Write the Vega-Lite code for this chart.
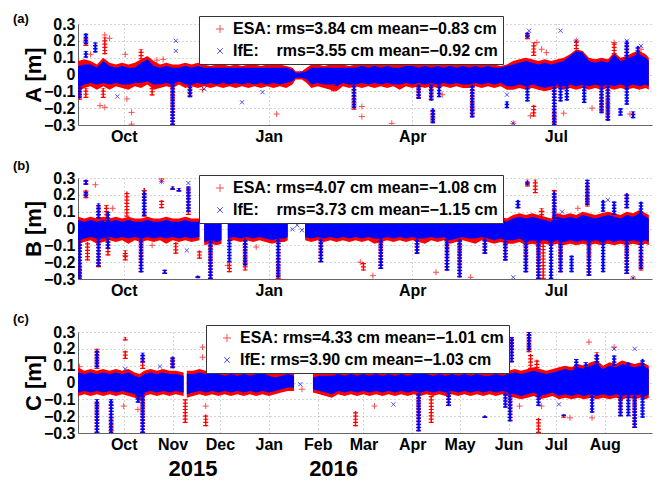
{
"$schema":"https://vega.github.io/schema/vega-lite/v6.json",
"background":"white",
"padding":{"left":13,"top":12,"right":5,"bottom":5},
"bounds":"flush",
"spacing":53,
"datasets":{
"band":[
{"p":"A","g":1,"d":"2015-09-02","eh":0.08,"el":-0.10,"ih":0.05,"il":-0.08},
{"p":"A","g":1,"d":"2015-09-06","eh":0.09,"el":-0.08,"ih":0.06,"il":-0.06},
{"p":"A","g":1,"d":"2015-09-10","eh":0.08,"el":-0.07,"ih":0.06,"il":-0.05},
{"p":"A","g":1,"d":"2015-09-14","eh":0.06,"el":-0.09,"ih":0.04,"il":-0.06},
{"p":"A","g":1,"d":"2015-09-18","eh":0.10,"el":-0.07,"ih":0.08,"il":-0.05},
{"p":"A","g":1,"d":"2015-09-22","eh":0.07,"el":-0.09,"ih":0.05,"il":-0.06},
{"p":"A","g":1,"d":"2015-09-26","eh":0.06,"el":-0.07,"ih":0.04,"il":-0.05},
{"p":"A","g":1,"d":"2015-09-30","eh":0.07,"el":-0.08,"ih":0.05,"il":-0.06},
{"p":"A","g":1,"d":"2015-10-04","eh":0.06,"el":-0.09,"ih":0.04,"il":-0.06},
{"p":"A","g":1,"d":"2015-10-08","eh":0.07,"el":-0.07,"ih":0.04,"il":-0.05},
{"p":"A","g":1,"d":"2015-10-12","eh":0.09,"el":-0.08,"ih":0.07,"il":-0.05},
{"p":"A","g":1,"d":"2015-10-16","eh":0.11,"el":-0.06,"ih":0.09,"il":-0.04},
{"p":"A","g":1,"d":"2015-10-20","eh":0.08,"el":-0.09,"ih":0.05,"il":-0.06},
{"p":"A","g":1,"d":"2015-10-24","eh":0.06,"el":-0.08,"ih":0.04,"il":-0.06},
{"p":"A","g":1,"d":"2015-10-28","eh":0.07,"el":-0.07,"ih":0.05,"il":-0.05},
{"p":"A","g":1,"d":"2015-11-01","eh":0.06,"el":-0.08,"ih":0.04,"il":-0.06},
{"p":"A","g":1,"d":"2015-11-05","eh":0.06,"el":-0.06,"ih":0.04,"il":-0.04},
{"p":"A","g":1,"d":"2015-11-09","eh":0.07,"el":-0.08,"ih":0.05,"il":-0.06},
{"p":"A","g":1,"d":"2015-11-13","eh":0.06,"el":-0.07,"ih":0.04,"il":-0.06},
{"p":"A","g":1,"d":"2015-11-17","eh":0.07,"el":-0.08,"ih":0.05,"il":-0.05},
{"p":"A","g":1,"d":"2015-11-21","eh":0.06,"el":-0.07,"ih":0.04,"il":-0.06},
{"p":"A","g":1,"d":"2015-11-25","eh":0.05,"el":-0.08,"ih":0.04,"il":-0.05},
{"p":"A","g":1,"d":"2015-11-29","eh":0.06,"el":-0.07,"ih":0.04,"il":-0.06},
{"p":"A","g":1,"d":"2015-12-03","eh":0.06,"el":-0.08,"ih":0.04,"il":-0.05},
{"p":"A","g":1,"d":"2015-12-07","eh":0.05,"el":-0.07,"ih":0.04,"il":-0.06},
{"p":"A","g":1,"d":"2015-12-11","eh":0.06,"el":-0.08,"ih":0.04,"il":-0.05},
{"p":"A","g":1,"d":"2015-12-15","eh":0.05,"el":-0.07,"ih":0.04,"il":-0.06},
{"p":"A","g":1,"d":"2015-12-19","eh":0.06,"el":-0.08,"ih":0.04,"il":-0.05},
{"p":"A","g":1,"d":"2015-12-23","eh":0.06,"el":-0.07,"ih":0.04,"il":-0.06},
{"p":"A","g":1,"d":"2015-12-27","eh":0.05,"el":-0.08,"ih":0.04,"il":-0.05},
{"p":"A","g":1,"d":"2015-12-31","eh":0.06,"el":-0.07,"ih":0.04,"il":-0.06},
{"p":"A","g":1,"d":"2016-01-04","eh":0.06,"el":-0.08,"ih":0.04,"il":-0.05},
{"p":"A","g":1,"d":"2016-01-08","eh":0.06,"el":-0.07,"ih":0.04,"il":-0.06},
{"p":"A","g":1,"d":"2016-01-12","eh":0.05,"el":-0.08,"ih":0.04,"il":-0.05},
{"p":"A","g":1,"d":"2016-01-16","eh":0.04,"el":-0.06,"ih":0.03,"il":-0.04},
{"p":"A","g":1,"d":"2016-01-18","eh":0.02,"el":-0.03,"ih":0.01,"il":-0.02},
{"p":"A","g":1,"d":"2016-01-22","eh":0.02,"el":-0.03,"ih":0.01,"il":-0.02},
{"p":"A","g":1,"d":"2016-01-25","eh":0.04,"el":-0.05,"ih":0.02,"il":-0.03},
{"p":"A","g":1,"d":"2016-01-28","eh":0.06,"el":-0.08,"ih":0.04,"il":-0.06},
{"p":"A","g":1,"d":"2016-02-01","eh":0.06,"el":-0.07,"ih":0.04,"il":-0.05},
{"p":"A","g":1,"d":"2016-02-05","eh":0.05,"el":-0.08,"ih":0.04,"il":-0.06},
{"p":"A","g":1,"d":"2016-02-09","eh":0.06,"el":-0.09,"ih":0.04,"il":-0.06},
{"p":"A","g":1,"d":"2016-02-13","eh":0.06,"el":-0.10,"ih":0.04,"il":-0.07},
{"p":"A","g":1,"d":"2016-02-17","eh":0.06,"el":-0.07,"ih":0.04,"il":-0.05},
{"p":"A","g":1,"d":"2016-02-21","eh":0.05,"el":-0.08,"ih":0.04,"il":-0.06},
{"p":"A","g":1,"d":"2016-02-25","eh":0.06,"el":-0.07,"ih":0.04,"il":-0.06},
{"p":"A","g":1,"d":"2016-02-29","eh":0.07,"el":-0.08,"ih":0.05,"il":-0.05},
{"p":"A","g":1,"d":"2016-03-04","eh":0.06,"el":-0.07,"ih":0.04,"il":-0.06},
{"p":"A","g":1,"d":"2016-03-08","eh":0.07,"el":-0.08,"ih":0.05,"il":-0.05},
{"p":"A","g":1,"d":"2016-03-12","eh":0.06,"el":-0.07,"ih":0.04,"il":-0.06},
{"p":"A","g":1,"d":"2016-03-16","eh":0.07,"el":-0.08,"ih":0.05,"il":-0.05},
{"p":"A","g":1,"d":"2016-03-20","eh":0.06,"el":-0.07,"ih":0.04,"il":-0.06},
{"p":"A","g":1,"d":"2016-03-24","eh":0.06,"el":-0.09,"ih":0.04,"il":-0.06},
{"p":"A","g":1,"d":"2016-03-28","eh":0.07,"el":-0.07,"ih":0.05,"il":-0.05},
{"p":"A","g":1,"d":"2016-04-01","eh":0.07,"el":-0.08,"ih":0.05,"il":-0.06},
{"p":"A","g":1,"d":"2016-04-05","eh":0.06,"el":-0.07,"ih":0.04,"il":-0.05},
{"p":"A","g":1,"d":"2016-04-09","eh":0.07,"el":-0.08,"ih":0.05,"il":-0.06},
{"p":"A","g":1,"d":"2016-04-13","eh":0.06,"el":-0.07,"ih":0.04,"il":-0.05},
{"p":"A","g":1,"d":"2016-04-17","eh":0.07,"el":-0.08,"ih":0.05,"il":-0.06},
{"p":"A","g":1,"d":"2016-04-21","eh":0.06,"el":-0.07,"ih":0.04,"il":-0.05},
{"p":"A","g":1,"d":"2016-04-25","eh":0.07,"el":-0.08,"ih":0.05,"il":-0.06},
{"p":"A","g":1,"d":"2016-04-29","eh":0.06,"el":-0.07,"ih":0.04,"il":-0.05},
{"p":"A","g":1,"d":"2016-05-03","eh":0.07,"el":-0.08,"ih":0.05,"il":-0.06},
{"p":"A","g":1,"d":"2016-05-07","eh":0.06,"el":-0.08,"ih":0.04,"il":-0.06},
{"p":"A","g":1,"d":"2016-05-11","eh":0.07,"el":-0.07,"ih":0.05,"il":-0.05},
{"p":"A","g":1,"d":"2016-05-15","eh":0.06,"el":-0.08,"ih":0.04,"il":-0.06},
{"p":"A","g":1,"d":"2016-05-19","eh":0.07,"el":-0.07,"ih":0.05,"il":-0.05},
{"p":"A","g":1,"d":"2016-05-23","eh":0.06,"el":-0.08,"ih":0.04,"il":-0.06},
{"p":"A","g":1,"d":"2016-05-27","eh":0.05,"el":-0.07,"ih":0.04,"il":-0.05},
{"p":"A","g":1,"d":"2016-05-31","eh":0.06,"el":-0.09,"ih":0.05,"il":-0.07},
{"p":"A","g":1,"d":"2016-06-04","eh":0.08,"el":-0.09,"ih":0.06,"il":-0.07},
{"p":"A","g":1,"d":"2016-06-08","eh":0.09,"el":-0.08,"ih":0.07,"il":-0.06},
{"p":"A","g":1,"d":"2016-06-12","eh":0.10,"el":-0.09,"ih":0.08,"il":-0.07},
{"p":"A","g":1,"d":"2016-06-16","eh":0.09,"el":-0.08,"ih":0.07,"il":-0.06},
{"p":"A","g":1,"d":"2016-06-20","eh":0.08,"el":-0.09,"ih":0.06,"il":-0.07},
{"p":"A","g":1,"d":"2016-06-24","eh":0.09,"el":-0.10,"ih":0.07,"il":-0.08},
{"p":"A","g":1,"d":"2016-06-28","eh":0.08,"el":-0.09,"ih":0.06,"il":-0.07},
{"p":"A","g":1,"d":"2016-07-02","eh":0.09,"el":-0.08,"ih":0.07,"il":-0.06},
{"p":"A","g":1,"d":"2016-07-06","eh":0.10,"el":-0.09,"ih":0.08,"il":-0.07},
{"p":"A","g":1,"d":"2016-07-10","eh":0.12,"el":-0.08,"ih":0.11,"il":-0.06},
{"p":"A","g":1,"d":"2016-07-14","eh":0.15,"el":-0.09,"ih":0.14,"il":-0.07},
{"p":"A","g":1,"d":"2016-07-18","eh":0.14,"el":-0.08,"ih":0.13,"il":-0.06},
{"p":"A","g":1,"d":"2016-07-22","eh":0.10,"el":-0.09,"ih":0.08,"il":-0.07},
{"p":"A","g":1,"d":"2016-07-26","eh":0.09,"el":-0.08,"ih":0.07,"il":-0.06},
{"p":"A","g":1,"d":"2016-07-30","eh":0.10,"el":-0.09,"ih":0.08,"il":-0.07},
{"p":"A","g":1,"d":"2016-08-03","eh":0.09,"el":-0.08,"ih":0.07,"il":-0.06},
{"p":"A","g":1,"d":"2016-08-07","eh":0.13,"el":-0.09,"ih":0.12,"il":-0.07},
{"p":"A","g":1,"d":"2016-08-11","eh":0.10,"el":-0.08,"ih":0.08,"il":-0.06},
{"p":"A","g":1,"d":"2016-08-15","eh":0.11,"el":-0.09,"ih":0.09,"il":-0.07},
{"p":"A","g":1,"d":"2016-08-19","eh":0.13,"el":-0.08,"ih":0.11,"il":-0.06},
{"p":"A","g":1,"d":"2016-08-23","eh":0.14,"el":-0.09,"ih":0.12,"il":-0.07},
{"p":"A","g":1,"d":"2016-08-27","eh":0.12,"el":-0.08,"ih":0.10,"il":-0.06},
{"p":"A","g":1,"d":"2016-08-29","eh":0.10,"el":-0.09,"ih":0.08,"il":-0.07},
{"p":"B","g":1,"d":"2015-09-02","eh":0.07,"el":-0.09,"ih":0.05,"il":-0.07},
{"p":"B","g":1,"d":"2015-09-06","eh":0.06,"el":-0.08,"ih":0.04,"il":-0.06},
{"p":"B","g":1,"d":"2015-09-10","eh":0.07,"el":-0.07,"ih":0.05,"il":-0.05},
{"p":"B","g":1,"d":"2015-09-14","eh":0.06,"el":-0.09,"ih":0.04,"il":-0.06},
{"p":"B","g":1,"d":"2015-09-18","eh":0.07,"el":-0.08,"ih":0.05,"il":-0.06},
{"p":"B","g":1,"d":"2015-09-22","eh":0.06,"el":-0.07,"ih":0.04,"il":-0.05},
{"p":"B","g":1,"d":"2015-09-26","eh":0.07,"el":-0.08,"ih":0.05,"il":-0.06},
{"p":"B","g":1,"d":"2015-09-30","eh":0.06,"el":-0.07,"ih":0.04,"il":-0.05},
{"p":"B","g":1,"d":"2015-10-04","eh":0.07,"el":-0.09,"ih":0.05,"il":-0.06},
{"p":"B","g":1,"d":"2015-10-08","eh":0.06,"el":-0.07,"ih":0.04,"il":-0.05},
{"p":"B","g":1,"d":"2015-10-12","eh":0.06,"el":-0.08,"ih":0.04,"il":-0.06},
{"p":"B","g":1,"d":"2015-10-16","eh":0.07,"el":-0.07,"ih":0.05,"il":-0.05},
{"p":"B","g":1,"d":"2015-10-20","eh":0.06,"el":-0.08,"ih":0.04,"il":-0.06},
{"p":"B","g":1,"d":"2015-10-24","eh":0.06,"el":-0.07,"ih":0.04,"il":-0.05},
{"p":"B","g":1,"d":"2015-10-28","eh":0.07,"el":-0.09,"ih":0.05,"il":-0.06},
{"p":"B","g":1,"d":"2015-11-01","eh":0.06,"el":-0.07,"ih":0.04,"il":-0.05},
{"p":"B","g":1,"d":"2015-11-05","eh":0.06,"el":-0.08,"ih":0.04,"il":-0.06},
{"p":"B","g":1,"d":"2015-11-09","eh":0.07,"el":-0.07,"ih":0.05,"il":-0.05},
{"p":"B","g":1,"d":"2015-11-13","eh":0.06,"el":-0.08,"ih":0.04,"il":-0.06},
{"p":"B","g":1,"d":"2015-11-18","eh":0.06,"el":-0.07,"ih":0.04,"il":-0.05},
{"p":"B","g":2,"d":"2015-11-21","eh":0.07,"el":-0.10,"ih":0.05,"il":-0.08},
{"p":"B","g":2,"d":"2015-11-25","eh":0.08,"el":-0.09,"ih":0.06,"il":-0.07},
{"p":"B","g":2,"d":"2015-11-29","eh":0.07,"el":-0.10,"ih":0.05,"il":-0.08},
{"p":"B","g":2,"d":"2015-12-02","eh":0.08,"el":-0.09,"ih":0.06,"il":-0.07},
{"p":"B","g":3,"d":"2015-12-06","eh":0.06,"el":-0.08,"ih":0.04,"il":-0.06},
{"p":"B","g":3,"d":"2015-12-10","eh":0.07,"el":-0.07,"ih":0.05,"il":-0.05},
{"p":"B","g":3,"d":"2015-12-14","eh":0.06,"el":-0.08,"ih":0.04,"il":-0.06},
{"p":"B","g":3,"d":"2015-12-18","eh":0.06,"el":-0.07,"ih":0.04,"il":-0.05},
{"p":"B","g":3,"d":"2015-12-22","eh":0.07,"el":-0.08,"ih":0.05,"il":-0.06},
{"p":"B","g":3,"d":"2015-12-26","eh":0.06,"el":-0.07,"ih":0.04,"il":-0.05},
{"p":"B","g":3,"d":"2015-12-30","eh":0.07,"el":-0.08,"ih":0.05,"il":-0.06},
{"p":"B","g":3,"d":"2016-01-03","eh":0.08,"el":-0.09,"ih":0.06,"il":-0.07},
{"p":"B","g":3,"d":"2016-01-07","eh":0.08,"el":-0.08,"ih":0.06,"il":-0.06},
{"p":"B","g":3,"d":"2016-01-11","eh":0.07,"el":-0.08,"ih":0.05,"il":-0.06},
{"p":"B","g":3,"d":"2016-01-13","eh":0.06,"el":-0.07,"ih":0.04,"il":-0.05},
{"p":"B","g":4,"d":"2016-01-24","eh":0.06,"el":-0.07,"ih":0.04,"il":-0.05},
{"p":"B","g":4,"d":"2016-01-28","eh":0.07,"el":-0.08,"ih":0.05,"il":-0.06},
{"p":"B","g":4,"d":"2016-02-01","eh":0.06,"el":-0.07,"ih":0.04,"il":-0.05},
{"p":"B","g":4,"d":"2016-02-05","eh":0.06,"el":-0.08,"ih":0.04,"il":-0.06},
{"p":"B","g":4,"d":"2016-02-09","eh":0.07,"el":-0.07,"ih":0.05,"il":-0.05},
{"p":"B","g":4,"d":"2016-02-13","eh":0.06,"el":-0.08,"ih":0.04,"il":-0.06},
{"p":"B","g":4,"d":"2016-02-17","eh":0.06,"el":-0.07,"ih":0.04,"il":-0.05},
{"p":"B","g":4,"d":"2016-02-21","eh":0.07,"el":-0.08,"ih":0.05,"il":-0.06},
{"p":"B","g":4,"d":"2016-02-25","eh":0.06,"el":-0.07,"ih":0.04,"il":-0.05},
{"p":"B","g":4,"d":"2016-02-29","eh":0.07,"el":-0.08,"ih":0.05,"il":-0.06},
{"p":"B","g":4,"d":"2016-03-04","eh":0.06,"el":-0.07,"ih":0.04,"il":-0.05},
{"p":"B","g":4,"d":"2016-03-08","eh":0.07,"el":-0.09,"ih":0.05,"il":-0.06},
{"p":"B","g":4,"d":"2016-03-12","eh":0.06,"el":-0.08,"ih":0.04,"il":-0.06},
{"p":"B","g":4,"d":"2016-03-16","eh":0.07,"el":-0.07,"ih":0.05,"il":-0.05},
{"p":"B","g":4,"d":"2016-03-20","eh":0.06,"el":-0.08,"ih":0.04,"il":-0.06},
{"p":"B","g":4,"d":"2016-03-24","eh":0.07,"el":-0.07,"ih":0.05,"il":-0.05},
{"p":"B","g":4,"d":"2016-03-28","eh":0.06,"el":-0.08,"ih":0.04,"il":-0.06},
{"p":"B","g":4,"d":"2016-04-01","eh":0.07,"el":-0.07,"ih":0.05,"il":-0.05},
{"p":"B","g":4,"d":"2016-04-05","eh":0.06,"el":-0.08,"ih":0.04,"il":-0.06},
{"p":"B","g":4,"d":"2016-04-09","eh":0.07,"el":-0.09,"ih":0.05,"il":-0.06},
{"p":"B","g":4,"d":"2016-04-13","eh":0.06,"el":-0.07,"ih":0.04,"il":-0.05},
{"p":"B","g":4,"d":"2016-04-17","eh":0.07,"el":-0.08,"ih":0.05,"il":-0.06},
{"p":"B","g":4,"d":"2016-04-21","eh":0.06,"el":-0.07,"ih":0.04,"il":-0.05},
{"p":"B","g":4,"d":"2016-04-25","eh":0.07,"el":-0.09,"ih":0.05,"il":-0.07},
{"p":"B","g":4,"d":"2016-04-29","eh":0.06,"el":-0.08,"ih":0.04,"il":-0.06},
{"p":"B","g":4,"d":"2016-05-03","eh":0.07,"el":-0.07,"ih":0.05,"il":-0.05},
{"p":"B","g":4,"d":"2016-05-07","eh":0.06,"el":-0.08,"ih":0.04,"il":-0.06},
{"p":"B","g":4,"d":"2016-05-11","eh":0.07,"el":-0.09,"ih":0.05,"il":-0.06},
{"p":"B","g":4,"d":"2016-05-15","eh":0.06,"el":-0.07,"ih":0.04,"il":-0.05},
{"p":"B","g":4,"d":"2016-05-19","eh":0.07,"el":-0.08,"ih":0.05,"il":-0.06},
{"p":"B","g":4,"d":"2016-05-23","eh":0.06,"el":-0.09,"ih":0.04,"il":-0.07},
{"p":"B","g":4,"d":"2016-05-27","eh":0.07,"el":-0.08,"ih":0.05,"il":-0.06},
{"p":"B","g":4,"d":"2016-05-31","eh":0.06,"el":-0.09,"ih":0.04,"il":-0.07},
{"p":"B","g":4,"d":"2016-06-04","eh":0.08,"el":-0.09,"ih":0.06,"il":-0.07},
{"p":"B","g":4,"d":"2016-06-08","eh":0.09,"el":-0.08,"ih":0.07,"il":-0.06},
{"p":"B","g":4,"d":"2016-06-12","eh":0.08,"el":-0.10,"ih":0.06,"il":-0.08},
{"p":"B","g":4,"d":"2016-06-16","eh":0.09,"el":-0.09,"ih":0.07,"il":-0.07},
{"p":"B","g":4,"d":"2016-06-20","eh":0.08,"el":-0.10,"ih":0.06,"il":-0.08},
{"p":"B","g":4,"d":"2016-06-24","eh":0.07,"el":-0.09,"ih":0.05,"il":-0.07},
{"p":"B","g":4,"d":"2016-06-28","eh":0.06,"el":-0.10,"ih":0.04,"il":-0.08},
{"p":"B","g":4,"d":"2016-07-02","eh":0.09,"el":-0.09,"ih":0.07,"il":-0.07},
{"p":"B","g":4,"d":"2016-07-06","eh":0.08,"el":-0.10,"ih":0.06,"il":-0.08},
{"p":"B","g":4,"d":"2016-07-10","eh":0.09,"el":-0.09,"ih":0.07,"il":-0.07},
{"p":"B","g":4,"d":"2016-07-14","eh":0.08,"el":-0.10,"ih":0.06,"il":-0.08},
{"p":"B","g":4,"d":"2016-07-18","eh":0.10,"el":-0.09,"ih":0.08,"il":-0.07},
{"p":"B","g":4,"d":"2016-07-22","eh":0.09,"el":-0.10,"ih":0.07,"il":-0.08},
{"p":"B","g":4,"d":"2016-07-26","eh":0.08,"el":-0.09,"ih":0.06,"il":-0.07},
{"p":"B","g":4,"d":"2016-07-30","eh":0.09,"el":-0.10,"ih":0.07,"il":-0.08},
{"p":"B","g":4,"d":"2016-08-03","eh":0.10,"el":-0.09,"ih":0.08,"il":-0.07},
{"p":"B","g":4,"d":"2016-08-07","eh":0.09,"el":-0.10,"ih":0.07,"il":-0.08},
{"p":"B","g":4,"d":"2016-08-11","eh":0.08,"el":-0.09,"ih":0.06,"il":-0.07},
{"p":"B","g":4,"d":"2016-08-15","eh":0.10,"el":-0.10,"ih":0.08,"il":-0.08},
{"p":"B","g":4,"d":"2016-08-19","eh":0.09,"el":-0.09,"ih":0.07,"il":-0.07},
{"p":"B","g":4,"d":"2016-08-23","eh":0.11,"el":-0.10,"ih":0.09,"il":-0.08},
{"p":"B","g":4,"d":"2016-08-27","eh":0.09,"el":-0.09,"ih":0.07,"il":-0.07},
{"p":"B","g":4,"d":"2016-08-29","eh":0.08,"el":-0.10,"ih":0.06,"il":-0.08},
{"p":"C","g":1,"d":"2015-09-02","eh":0.09,"el":-0.08,"ih":0.06,"il":-0.06},
{"p":"C","g":1,"d":"2015-09-06","eh":0.07,"el":-0.07,"ih":0.05,"il":-0.05},
{"p":"C","g":1,"d":"2015-09-10","eh":0.08,"el":-0.08,"ih":0.06,"il":-0.06},
{"p":"C","g":1,"d":"2015-09-14","eh":0.07,"el":-0.07,"ih":0.05,"il":-0.05},
{"p":"C","g":1,"d":"2015-09-18","eh":0.08,"el":-0.08,"ih":0.06,"il":-0.06},
{"p":"C","g":1,"d":"2015-09-22","eh":0.07,"el":-0.07,"ih":0.05,"il":-0.05},
{"p":"C","g":1,"d":"2015-09-26","eh":0.08,"el":-0.08,"ih":0.06,"il":-0.06},
{"p":"C","g":1,"d":"2015-09-30","eh":0.07,"el":-0.07,"ih":0.05,"il":-0.05},
{"p":"C","g":1,"d":"2015-10-04","eh":0.08,"el":-0.08,"ih":0.06,"il":-0.06},
{"p":"C","g":1,"d":"2015-10-08","eh":0.06,"el":-0.09,"ih":0.04,"il":-0.07},
{"p":"C","g":1,"d":"2015-10-11","eh":0.05,"el":-0.11,"ih":0.03,"il":-0.09},
{"p":"C","g":1,"d":"2015-10-14","eh":0.07,"el":-0.08,"ih":0.05,"il":-0.06},
{"p":"C","g":1,"d":"2015-10-18","eh":0.08,"el":-0.07,"ih":0.06,"il":-0.05},
{"p":"C","g":1,"d":"2015-10-22","eh":0.07,"el":-0.08,"ih":0.05,"il":-0.06},
{"p":"C","g":1,"d":"2015-10-26","eh":0.08,"el":-0.07,"ih":0.06,"il":-0.05},
{"p":"C","g":1,"d":"2015-10-30","eh":0.07,"el":-0.08,"ih":0.05,"il":-0.06},
{"p":"C","g":1,"d":"2015-11-03","eh":0.07,"el":-0.07,"ih":0.05,"il":-0.05},
{"p":"C","g":1,"d":"2015-11-08","eh":0.06,"el":-0.08,"ih":0.04,"il":-0.06},
{"p":"C","g":2,"d":"2015-11-10","eh":0.07,"el":-0.09,"ih":0.05,"il":-0.07},
{"p":"C","g":2,"d":"2015-11-14","eh":0.07,"el":-0.08,"ih":0.05,"il":-0.06},
{"p":"C","g":2,"d":"2015-11-18","eh":0.08,"el":-0.07,"ih":0.06,"il":-0.05},
{"p":"C","g":2,"d":"2015-11-22","eh":0.07,"el":-0.08,"ih":0.05,"il":-0.06},
{"p":"C","g":2,"d":"2015-11-26","eh":0.08,"el":-0.07,"ih":0.06,"il":-0.05},
{"p":"C","g":2,"d":"2015-11-30","eh":0.07,"el":-0.08,"ih":0.05,"il":-0.06},
{"p":"C","g":2,"d":"2015-12-04","eh":0.06,"el":-0.07,"ih":0.04,"il":-0.05},
{"p":"C","g":2,"d":"2015-12-08","eh":0.07,"el":-0.08,"ih":0.05,"il":-0.06},
{"p":"C","g":2,"d":"2015-12-12","eh":0.06,"el":-0.07,"ih":0.04,"il":-0.05},
{"p":"C","g":2,"d":"2015-12-16","eh":0.07,"el":-0.08,"ih":0.05,"il":-0.06},
{"p":"C","g":2,"d":"2015-12-20","eh":0.06,"el":-0.07,"ih":0.04,"il":-0.05},
{"p":"C","g":2,"d":"2015-12-24","eh":0.07,"el":-0.08,"ih":0.05,"il":-0.06},
{"p":"C","g":2,"d":"2015-12-28","eh":0.08,"el":-0.07,"ih":0.06,"il":-0.05},
{"p":"C","g":2,"d":"2016-01-01","eh":0.06,"el":-0.08,"ih":0.04,"il":-0.06},
{"p":"C","g":2,"d":"2016-01-05","eh":0.05,"el":-0.07,"ih":0.03,"il":-0.05},
{"p":"C","g":2,"d":"2016-01-09","eh":0.06,"el":-0.06,"ih":0.04,"il":-0.04},
{"p":"C","g":2,"d":"2016-01-13","eh":0.07,"el":-0.05,"ih":0.05,"il":-0.03},
{"p":"C","g":2,"d":"2016-01-17","eh":0.06,"el":-0.05,"ih":0.04,"il":-0.03},
{"p":"C","g":3,"d":"2016-01-29","eh":0.05,"el":-0.06,"ih":0.03,"il":-0.04},
{"p":"C","g":3,"d":"2016-02-02","eh":0.06,"el":-0.07,"ih":0.04,"il":-0.05},
{"p":"C","g":3,"d":"2016-02-06","eh":0.06,"el":-0.08,"ih":0.04,"il":-0.06},
{"p":"C","g":3,"d":"2016-02-10","eh":0.06,"el":-0.09,"ih":0.04,"il":-0.07},
{"p":"C","g":3,"d":"2016-02-14","eh":0.07,"el":-0.07,"ih":0.05,"il":-0.05},
{"p":"C","g":3,"d":"2016-02-18","eh":0.06,"el":-0.08,"ih":0.04,"il":-0.06},
{"p":"C","g":3,"d":"2016-02-22","eh":0.07,"el":-0.07,"ih":0.05,"il":-0.05},
{"p":"C","g":3,"d":"2016-02-26","eh":0.06,"el":-0.08,"ih":0.04,"il":-0.06},
{"p":"C","g":3,"d":"2016-03-01","eh":0.07,"el":-0.07,"ih":0.05,"il":-0.05},
{"p":"C","g":3,"d":"2016-03-05","eh":0.06,"el":-0.08,"ih":0.04,"il":-0.06},
{"p":"C","g":3,"d":"2016-03-09","eh":0.07,"el":-0.07,"ih":0.05,"il":-0.05},
{"p":"C","g":3,"d":"2016-03-13","eh":0.06,"el":-0.08,"ih":0.04,"il":-0.06},
{"p":"C","g":3,"d":"2016-03-17","eh":0.07,"el":-0.07,"ih":0.05,"il":-0.05},
{"p":"C","g":3,"d":"2016-03-21","eh":0.06,"el":-0.08,"ih":0.04,"il":-0.06},
{"p":"C","g":3,"d":"2016-03-25","eh":0.07,"el":-0.07,"ih":0.05,"il":-0.05},
{"p":"C","g":3,"d":"2016-03-29","eh":0.06,"el":-0.08,"ih":0.04,"il":-0.06},
{"p":"C","g":3,"d":"2016-04-02","eh":0.07,"el":-0.07,"ih":0.05,"il":-0.05},
{"p":"C","g":3,"d":"2016-04-06","eh":0.08,"el":-0.08,"ih":0.06,"il":-0.06},
{"p":"C","g":3,"d":"2016-04-10","eh":0.07,"el":-0.07,"ih":0.05,"il":-0.05},
{"p":"C","g":3,"d":"2016-04-14","eh":0.06,"el":-0.08,"ih":0.04,"il":-0.06},
{"p":"C","g":3,"d":"2016-04-18","eh":0.07,"el":-0.07,"ih":0.05,"il":-0.05},
{"p":"C","g":3,"d":"2016-04-22","eh":0.06,"el":-0.08,"ih":0.04,"il":-0.06},
{"p":"C","g":3,"d":"2016-04-26","eh":0.07,"el":-0.07,"ih":0.05,"il":-0.05},
{"p":"C","g":3,"d":"2016-04-30","eh":0.06,"el":-0.08,"ih":0.04,"il":-0.06},
{"p":"C","g":3,"d":"2016-05-04","eh":0.07,"el":-0.07,"ih":0.05,"il":-0.05},
{"p":"C","g":3,"d":"2016-05-08","eh":0.06,"el":-0.08,"ih":0.04,"il":-0.06},
{"p":"C","g":3,"d":"2016-05-12","eh":0.07,"el":-0.07,"ih":0.05,"il":-0.05},
{"p":"C","g":3,"d":"2016-05-16","eh":0.06,"el":-0.08,"ih":0.04,"il":-0.06},
{"p":"C","g":3,"d":"2016-05-20","eh":0.06,"el":-0.07,"ih":0.04,"il":-0.05},
{"p":"C","g":3,"d":"2016-05-24","eh":0.07,"el":-0.08,"ih":0.05,"il":-0.06},
{"p":"C","g":3,"d":"2016-05-28","eh":0.06,"el":-0.07,"ih":0.04,"il":-0.05},
{"p":"C","g":3,"d":"2016-06-01","eh":0.07,"el":-0.08,"ih":0.05,"il":-0.06},
{"p":"C","g":3,"d":"2016-06-05","eh":0.08,"el":-0.09,"ih":0.06,"il":-0.07},
{"p":"C","g":3,"d":"2016-06-09","eh":0.07,"el":-0.10,"ih":0.05,"il":-0.08},
{"p":"C","g":3,"d":"2016-06-13","eh":0.08,"el":-0.09,"ih":0.06,"il":-0.07},
{"p":"C","g":3,"d":"2016-06-17","eh":0.09,"el":-0.08,"ih":0.07,"il":-0.06},
{"p":"C","g":3,"d":"2016-06-21","eh":0.08,"el":-0.10,"ih":0.06,"il":-0.08},
{"p":"C","g":3,"d":"2016-06-25","eh":0.07,"el":-0.09,"ih":0.05,"il":-0.07},
{"p":"C","g":3,"d":"2016-06-29","eh":0.08,"el":-0.08,"ih":0.06,"il":-0.06},
{"p":"C","g":3,"d":"2016-07-03","eh":0.09,"el":-0.10,"ih":0.07,"il":-0.08},
{"p":"C","g":3,"d":"2016-07-07","eh":0.10,"el":-0.09,"ih":0.08,"il":-0.07},
{"p":"C","g":3,"d":"2016-07-11","eh":0.09,"el":-0.10,"ih":0.07,"il":-0.08},
{"p":"C","g":3,"d":"2016-07-15","eh":0.11,"el":-0.09,"ih":0.09,"il":-0.07},
{"p":"C","g":3,"d":"2016-07-19","eh":0.10,"el":-0.10,"ih":0.08,"il":-0.08},
{"p":"C","g":3,"d":"2016-07-23","eh":0.12,"el":-0.09,"ih":0.10,"il":-0.07},
{"p":"C","g":3,"d":"2016-07-27","eh":0.13,"el":-0.10,"ih":0.11,"il":-0.08},
{"p":"C","g":3,"d":"2016-07-31","eh":0.10,"el":-0.09,"ih":0.08,"il":-0.07},
{"p":"C","g":3,"d":"2016-08-04","eh":0.12,"el":-0.10,"ih":0.10,"il":-0.08},
{"p":"C","g":3,"d":"2016-08-08","eh":0.11,"el":-0.09,"ih":0.09,"il":-0.07},
{"p":"C","g":3,"d":"2016-08-12","eh":0.13,"el":-0.10,"ih":0.11,"il":-0.08},
{"p":"C","g":3,"d":"2016-08-16","eh":0.12,"el":-0.09,"ih":0.10,"il":-0.07},
{"p":"C","g":3,"d":"2016-08-20","eh":0.11,"el":-0.10,"ih":0.09,"il":-0.08},
{"p":"C","g":3,"d":"2016-08-24","eh":0.12,"el":-0.09,"ih":0.10,"il":-0.07},
{"p":"C","g":3,"d":"2016-08-27","eh":0.11,"el":-0.10,"ih":0.09,"il":-0.08},
{"p":"C","g":3,"d":"2016-08-29","eh":0.10,"el":-0.09,"ih":0.08,"il":-0.07}
],
"spk":[
{"p":"A","s":"ESA","d":"2015-09-03","lo":-0.15,"hi":-0.06},
{"p":"A","s":"ESA","d":"2015-09-07","lo":0.17,"hi":0.23},
{"p":"A","s":"ESA","d":"2015-09-07","lo":-0.14,"hi":-0.08},
{"p":"A","s":"ESA","d":"2015-09-19","lo":0.12,"hi":0.22},
{"p":"A","s":"ESA","d":"2015-09-18","lo":-0.14,"hi":-0.08},
{"p":"A","s":"ESA","d":"2015-10-12","lo":0.09,"hi":0.15},
{"p":"A","s":"ESA","d":"2015-10-19","lo":-0.125,"hi":-0.08},
{"p":"A","s":"ESA","d":"2015-11-01","lo":-0.3,"hi":-0.07},
{"p":"A","s":"ESA","d":"2015-11-12","lo":-0.13,"hi":-0.07},
{"p":"A","s":"ESA","d":"2016-02-11","lo":-0.1,"hi":-0.06},
{"p":"A","s":"ESA","d":"2016-02-24","lo":-0.21,"hi":-0.07},
{"p":"A","s":"ESA","d":"2016-04-05","lo":-0.14,"hi":-0.06},
{"p":"A","s":"ESA","d":"2016-04-13","lo":-0.15,"hi":-0.06},
{"p":"A","s":"ESA","d":"2016-04-14","lo":-0.28,"hi":-0.21},
{"p":"A","s":"ESA","d":"2016-05-09","lo":-0.25,"hi":-0.07},
{"p":"A","s":"ESA","d":"2016-06-13","lo":0.21,"hi":0.25},
{"p":"A","s":"ESA","d":"2016-06-17","lo":0.11,"hi":0.19},
{"p":"A","s":"ESA","d":"2016-06-17","lo":-0.25,"hi":-0.18},
{"p":"A","s":"ESA","d":"2016-06-30","lo":-0.29,"hi":-0.08},
{"p":"A","s":"ESA","d":"2016-07-14","lo":0.15,"hi":0.2},
{"p":"A","s":"ESA","d":"2016-07-30","lo":-0.22,"hi":-0.07},
{"p":"A","s":"ESA","d":"2016-08-03","lo":-0.27,"hi":-0.07},
{"p":"A","s":"ESA","d":"2016-08-07","lo":0.12,"hi":0.19},
{"p":"A","s":"ESA","d":"2016-08-15","lo":0.09,"hi":0.18},
{"p":"A","s":"IfE","d":"2015-09-03","lo":-0.14,"hi":-0.05},
{"p":"A","s":"IfE","d":"2015-09-07","lo":0.18,"hi":0.245},
{"p":"A","s":"IfE","d":"2015-09-07","lo":0.1,"hi":0.14},
{"p":"A","s":"IfE","d":"2015-09-13","lo":0.13,"hi":0.19},
{"p":"A","s":"IfE","d":"2015-11-01","lo":-0.3,"hi":-0.06},
{"p":"A","s":"IfE","d":"2015-11-12","lo":-0.135,"hi":-0.06},
{"p":"A","s":"IfE","d":"2016-02-24","lo":-0.2,"hi":-0.06},
{"p":"A","s":"IfE","d":"2016-04-05","lo":-0.145,"hi":-0.06},
{"p":"A","s":"IfE","d":"2016-04-13","lo":-0.155,"hi":-0.06},
{"p":"A","s":"IfE","d":"2016-04-14","lo":-0.29,"hi":-0.2},
{"p":"A","s":"IfE","d":"2016-04-18","lo":-0.135,"hi":-0.06},
{"p":"A","s":"IfE","d":"2016-05-09","lo":-0.255,"hi":-0.06},
{"p":"A","s":"IfE","d":"2016-05-31","lo":-0.2,"hi":-0.16},
{"p":"A","s":"IfE","d":"2016-06-13","lo":0.22,"hi":0.25},
{"p":"A","s":"IfE","d":"2016-06-13","lo":-0.16,"hi":-0.06},
{"p":"A","s":"IfE","d":"2016-06-30","lo":-0.3,"hi":-0.06},
{"p":"A","s":"IfE","d":"2016-07-04","lo":-0.16,"hi":-0.06},
{"p":"A","s":"IfE","d":"2016-07-08","lo":-0.155,"hi":-0.06},
{"p":"A","s":"IfE","d":"2016-07-19","lo":-0.17,"hi":-0.06},
{"p":"A","s":"IfE","d":"2016-07-30","lo":-0.23,"hi":-0.06},
{"p":"A","s":"IfE","d":"2016-08-03","lo":-0.275,"hi":-0.06},
{"p":"A","s":"IfE","d":"2016-08-11","lo":-0.245,"hi":-0.2},
{"p":"A","s":"IfE","d":"2016-08-15","lo":0.09,"hi":0.2},
{"p":"A","s":"IfE","d":"2016-08-15","lo":-0.18,"hi":-0.06},
{"p":"A","s":"IfE","d":"2016-08-19","lo":-0.26,"hi":-0.22},
{"p":"A","s":"IfE","d":"2016-08-22","lo":0.1,"hi":0.17},
{"p":"B","s":"ESA","d":"2015-09-03","lo":-0.29,"hi":-0.07},
{"p":"B","s":"ESA","d":"2015-09-07","lo":0.26,"hi":0.29},
{"p":"B","s":"ESA","d":"2015-09-07","lo":0.18,"hi":0.23},
{"p":"B","s":"ESA","d":"2015-09-08","lo":-0.19,"hi":-0.08},
{"p":"B","s":"ESA","d":"2015-09-15","lo":0.06,"hi":0.14},
{"p":"B","s":"ESA","d":"2015-09-15","lo":-0.23,"hi":-0.07},
{"p":"B","s":"ESA","d":"2015-09-20","lo":0.04,"hi":0.14},
{"p":"B","s":"ESA","d":"2015-09-21","lo":-0.16,"hi":-0.07},
{"p":"B","s":"ESA","d":"2015-10-03","lo":0.07,"hi":0.22},
{"p":"B","s":"ESA","d":"2015-10-02","lo":-0.19,"hi":-0.13},
{"p":"B","s":"ESA","d":"2015-10-14","lo":0.07,"hi":0.24},
{"p":"B","s":"ESA","d":"2015-10-12","lo":-0.26,"hi":-0.07},
{"p":"B","s":"ESA","d":"2015-10-25","lo":0.12,"hi":0.17},
{"p":"B","s":"ESA","d":"2015-10-27","lo":-0.27,"hi":-0.25},
{"p":"B","s":"ESA","d":"2015-11-01","lo":0.23,"hi":0.25},
{"p":"B","s":"ESA","d":"2015-11-03","lo":-0.15,"hi":-0.08},
{"p":"B","s":"ESA","d":"2015-11-05","lo":0.22,"hi":0.24},
{"p":"B","s":"ESA","d":"2015-11-11","lo":0.08,"hi":0.25},
{"p":"B","s":"ESA","d":"2015-11-17","lo":-0.29,"hi":-0.28},
{"p":"B","s":"ESA","d":"2015-11-18","lo":-0.18,"hi":-0.13},
{"p":"B","s":"ESA","d":"2015-11-25","lo":-0.3,"hi":-0.07},
{"p":"B","s":"ESA","d":"2015-12-07","lo":-0.26,"hi":-0.2},
{"p":"B","s":"ESA","d":"2015-12-17","lo":-0.25,"hi":-0.07},
{"p":"B","s":"ESA","d":"2016-01-07","lo":-0.3,"hi":-0.07},
{"p":"B","s":"ESA","d":"2016-02-03","lo":-0.2,"hi":-0.07},
{"p":"B","s":"ESA","d":"2016-03-01","lo":-0.25,"hi":-0.2},
{"p":"B","s":"ESA","d":"2016-03-12","lo":-0.24,"hi":-0.07},
{"p":"B","s":"ESA","d":"2016-04-04","lo":-0.15,"hi":-0.07},
{"p":"B","s":"ESA","d":"2016-04-23","lo":-0.25,"hi":-0.07},
{"p":"B","s":"ESA","d":"2016-05-01","lo":-0.29,"hi":-0.07},
{"p":"B","s":"ESA","d":"2016-05-17","lo":-0.15,"hi":-0.07},
{"p":"B","s":"ESA","d":"2016-05-30","lo":-0.19,"hi":-0.07},
{"p":"B","s":"ESA","d":"2016-06-07","lo":0.12,"hi":0.16},
{"p":"B","s":"ESA","d":"2016-06-12","lo":-0.26,"hi":-0.07},
{"p":"B","s":"ESA","d":"2016-06-13","lo":0.25,"hi":0.29},
{"p":"B","s":"ESA","d":"2016-06-18","lo":0.21,"hi":0.29},
{"p":"B","s":"ESA","d":"2016-06-20","lo":-0.3,"hi":-0.07},
{"p":"B","s":"ESA","d":"2016-06-23","lo":-0.3,"hi":-0.07},
{"p":"B","s":"ESA","d":"2016-06-22","lo":0.06,"hi":0.12},
{"p":"B","s":"ESA","d":"2016-06-30","lo":0.05,"hi":0.23},
{"p":"B","s":"ESA","d":"2016-07-04","lo":-0.26,"hi":-0.07},
{"p":"B","s":"ESA","d":"2016-07-21","lo":0.13,"hi":0.28},
{"p":"B","s":"ESA","d":"2016-07-22","lo":-0.28,"hi":-0.07},
{"p":"B","s":"ESA","d":"2016-08-15","lo":0.12,"hi":0.21},
{"p":"B","s":"ESA","d":"2016-08-15","lo":-0.27,"hi":-0.07},
{"p":"B","s":"ESA","d":"2016-08-24","lo":-0.25,"hi":-0.07},
{"p":"B","s":"IfE","d":"2015-09-03","lo":-0.3,"hi":-0.06},
{"p":"B","s":"IfE","d":"2015-09-07","lo":0.26,"hi":0.29},
{"p":"B","s":"IfE","d":"2015-09-07","lo":0.19,"hi":0.22},
{"p":"B","s":"IfE","d":"2015-09-15","lo":0.06,"hi":0.15},
{"p":"B","s":"IfE","d":"2015-09-15","lo":-0.225,"hi":-0.06},
{"p":"B","s":"IfE","d":"2015-09-21","lo":0.04,"hi":0.1},
{"p":"B","s":"IfE","d":"2015-09-21","lo":-0.12,"hi":-0.06},
{"p":"B","s":"IfE","d":"2015-10-14","lo":0.075,"hi":0.22},
{"p":"B","s":"IfE","d":"2015-10-12","lo":-0.26,"hi":-0.06},
{"p":"B","s":"IfE","d":"2015-10-27","lo":-0.27,"hi":-0.245},
{"p":"B","s":"IfE","d":"2015-11-01","lo":0.23,"hi":0.25},
{"p":"B","s":"IfE","d":"2015-11-05","lo":0.22,"hi":0.24},
{"p":"B","s":"IfE","d":"2015-11-11","lo":0.1,"hi":0.25},
{"p":"B","s":"IfE","d":"2015-11-17","lo":-0.295,"hi":-0.28},
{"p":"B","s":"IfE","d":"2015-11-25","lo":-0.3,"hi":-0.06},
{"p":"B","s":"IfE","d":"2015-12-07","lo":-0.2,"hi":-0.06},
{"p":"B","s":"IfE","d":"2015-12-17","lo":-0.22,"hi":-0.06},
{"p":"B","s":"IfE","d":"2016-01-07","lo":-0.29,"hi":-0.06},
{"p":"B","s":"IfE","d":"2016-02-03","lo":-0.2,"hi":-0.06},
{"p":"B","s":"IfE","d":"2016-03-12","lo":-0.24,"hi":-0.06},
{"p":"B","s":"IfE","d":"2016-04-04","lo":-0.15,"hi":-0.06},
{"p":"B","s":"IfE","d":"2016-04-23","lo":-0.25,"hi":-0.06},
{"p":"B","s":"IfE","d":"2016-05-01","lo":-0.29,"hi":-0.06},
{"p":"B","s":"IfE","d":"2016-05-17","lo":-0.15,"hi":-0.06},
{"p":"B","s":"IfE","d":"2016-05-30","lo":-0.19,"hi":-0.06},
{"p":"B","s":"IfE","d":"2016-06-07","lo":0.12,"hi":0.17},
{"p":"B","s":"IfE","d":"2016-06-12","lo":-0.26,"hi":-0.06},
{"p":"B","s":"IfE","d":"2016-06-13","lo":0.26,"hi":0.28},
{"p":"B","s":"IfE","d":"2016-06-20","lo":-0.3,"hi":-0.06},
{"p":"B","s":"IfE","d":"2016-06-28","lo":-0.3,"hi":-0.06},
{"p":"B","s":"IfE","d":"2016-06-30","lo":0.04,"hi":0.22},
{"p":"B","s":"IfE","d":"2016-07-04","lo":-0.26,"hi":-0.06},
{"p":"B","s":"IfE","d":"2016-07-11","lo":-0.26,"hi":-0.16},
{"p":"B","s":"IfE","d":"2016-07-21","lo":0.14,"hi":0.29},
{"p":"B","s":"IfE","d":"2016-07-22","lo":-0.28,"hi":-0.06},
{"p":"B","s":"IfE","d":"2016-07-31","lo":0.1,"hi":0.17},
{"p":"B","s":"IfE","d":"2016-07-31","lo":-0.26,"hi":-0.06},
{"p":"B","s":"IfE","d":"2016-08-07","lo":0.08,"hi":0.16},
{"p":"B","s":"IfE","d":"2016-08-15","lo":0.12,"hi":0.21},
{"p":"B","s":"IfE","d":"2016-08-15","lo":-0.27,"hi":-0.06},
{"p":"B","s":"IfE","d":"2016-08-24","lo":0.04,"hi":0.16},
{"p":"B","s":"IfE","d":"2016-08-24","lo":-0.24,"hi":-0.06},
{"p":"C","s":"ESA","d":"2015-09-14","lo":0.08,"hi":0.2},
{"p":"C","s":"ESA","d":"2015-09-14","lo":-0.3,"hi":-0.12},
{"p":"C","s":"ESA","d":"2015-09-23","lo":-0.29,"hi":-0.12},
{"p":"C","s":"ESA","d":"2015-10-02","lo":0.25,"hi":0.27},
{"p":"C","s":"ESA","d":"2015-10-02","lo":0.14,"hi":0.19},
{"p":"C","s":"ESA","d":"2015-10-13","lo":-0.3,"hi":-0.07},
{"p":"C","s":"ESA","d":"2015-10-13","lo":0.08,"hi":0.16},
{"p":"C","s":"ESA","d":"2015-11-01","lo":0.09,"hi":0.15},
{"p":"C","s":"ESA","d":"2015-11-09","lo":-0.24,"hi":-0.1},
{"p":"C","s":"ESA","d":"2015-11-22","lo":-0.26,"hi":-0.19},
{"p":"C","s":"ESA","d":"2016-02-25","lo":-0.26,"hi":-0.17},
{"p":"C","s":"ESA","d":"2016-04-05","lo":-0.29,"hi":-0.07},
{"p":"C","s":"ESA","d":"2016-04-13","lo":-0.24,"hi":-0.08},
{"p":"C","s":"ESA","d":"2016-04-24","lo":-0.14,"hi":-0.07},
{"p":"C","s":"ESA","d":"2016-05-17","lo":-0.21,"hi":-0.2},
{"p":"C","s":"ESA","d":"2016-06-02","lo":-0.23,"hi":-0.07},
{"p":"C","s":"ESA","d":"2016-06-03","lo":0.12,"hi":0.27},
{"p":"C","s":"ESA","d":"2016-06-14","lo":0.18,"hi":0.3},
{"p":"C","s":"ESA","d":"2016-06-15","lo":0.08,"hi":0.17},
{"p":"C","s":"ESA","d":"2016-06-19","lo":0.085,"hi":0.135},
{"p":"C","s":"ESA","d":"2016-06-20","lo":-0.3,"hi":-0.21},
{"p":"C","s":"ESA","d":"2016-07-06","lo":-0.21,"hi":-0.19},
{"p":"C","s":"ESA","d":"2016-07-27","lo":0.12,"hi":0.18},
{"p":"C","s":"ESA","d":"2016-08-11","lo":-0.2,"hi":-0.07},
{"p":"C","s":"ESA","d":"2016-08-20","lo":-0.27,"hi":-0.07},
{"p":"C","s":"IfE","d":"2015-09-14","lo":0.09,"hi":0.19},
{"p":"C","s":"IfE","d":"2015-09-14","lo":-0.3,"hi":-0.1},
{"p":"C","s":"IfE","d":"2015-09-23","lo":-0.3,"hi":-0.1},
{"p":"C","s":"IfE","d":"2015-10-10","lo":-0.12,"hi":-0.06},
{"p":"C","s":"IfE","d":"2015-10-13","lo":-0.3,"hi":-0.06},
{"p":"C","s":"IfE","d":"2015-10-13","lo":0.12,"hi":0.176},
{"p":"C","s":"IfE","d":"2015-11-01","lo":0.085,"hi":0.155},
{"p":"C","s":"IfE","d":"2016-04-05","lo":-0.29,"hi":-0.06},
{"p":"C","s":"IfE","d":"2016-04-24","lo":-0.14,"hi":-0.06},
{"p":"C","s":"IfE","d":"2016-05-17","lo":-0.21,"hi":-0.195},
{"p":"C","s":"IfE","d":"2016-05-30","lo":-0.15,"hi":-0.06},
{"p":"C","s":"IfE","d":"2016-06-02","lo":-0.23,"hi":-0.06},
{"p":"C","s":"IfE","d":"2016-06-03","lo":0.12,"hi":0.27},
{"p":"C","s":"IfE","d":"2016-06-14","lo":0.19,"hi":0.3},
{"p":"C","s":"IfE","d":"2016-06-20","lo":-0.14,"hi":-0.06},
{"p":"C","s":"IfE","d":"2016-07-06","lo":-0.2,"hi":-0.19},
{"p":"C","s":"IfE","d":"2016-07-14","lo":0.08,"hi":0.14},
{"p":"C","s":"IfE","d":"2016-07-20","lo":0.08,"hi":0.12},
{"p":"C","s":"IfE","d":"2016-07-24","lo":-0.18,"hi":-0.06},
{"p":"C","s":"IfE","d":"2016-07-27","lo":0.1,"hi":0.17},
{"p":"C","s":"IfE","d":"2016-08-07","lo":0.1,"hi":0.16},
{"p":"C","s":"IfE","d":"2016-08-11","lo":-0.2,"hi":-0.06},
{"p":"C","s":"IfE","d":"2016-08-16","lo":-0.2,"hi":-0.06},
{"p":"C","s":"IfE","d":"2016-08-16","lo":0.07,"hi":0.12},
{"p":"C","s":"IfE","d":"2016-08-20","lo":-0.27,"hi":-0.06},
{"p":"C","s":"IfE","d":"2016-08-25","lo":-0.21,"hi":-0.06},
{"p":"C","s":"IfE","d":"2016-08-25","lo":0.07,"hi":0.14}
],
"pts":[
{"p":"A","s":"ESA","d":"2015-09-16","y":-0.185},
{"p":"A","s":"ESA","d":"2015-09-19","y":-0.195},
{"p":"A","s":"ESA","d":"2015-09-19","y":0.235},
{"p":"A","s":"ESA","d":"2015-09-22","y":0.215},
{"p":"A","s":"ESA","d":"2015-09-10","y":0.12},
{"p":"A","s":"ESA","d":"2015-10-03","y":-0.145},
{"p":"A","s":"ESA","d":"2015-10-06","y":-0.225},
{"p":"A","s":"ESA","d":"2015-10-06","y":-0.295},
{"p":"A","s":"ESA","d":"2015-10-02","y":0.12},
{"p":"A","s":"ESA","d":"2015-10-22","y":0.085},
{"p":"A","s":"ESA","d":"2015-10-26","y":0.09},
{"p":"A","s":"ESA","d":"2015-11-20","y":-0.09},
{"p":"A","s":"ESA","d":"2016-01-06","y":-0.235},
{"p":"A","s":"ESA","d":"2016-02-29","y":-0.19},
{"p":"A","s":"ESA","d":"2016-02-29","y":-0.25},
{"p":"A","s":"ESA","d":"2016-03-19","y":-0.29},
{"p":"A","s":"ESA","d":"2016-04-20","y":-0.12},
{"p":"A","s":"ESA","d":"2016-06-15","y":-0.245},
{"p":"A","s":"ESA","d":"2016-06-19","y":0.19},
{"p":"A","s":"ESA","d":"2016-06-22","y":0.15},
{"p":"A","s":"ESA","d":"2016-06-25","y":0.13},
{"p":"A","s":"ESA","d":"2016-07-14","y":0.2},
{"p":"A","s":"ESA","d":"2016-07-24","y":-0.2},
{"p":"A","s":"ESA","d":"2016-08-07","y":0.19},
{"p":"A","s":"ESA","d":"2016-08-17","y":-0.235},
{"p":"A","s":"ESA","d":"2016-08-24","y":0.15},
{"p":"A","s":"ESA","d":"2016-06-04","y":-0.29},
{"p":"A","s":"ESA","d":"2016-07-06","y":-0.23},
{"p":"B","s":"ESA","d":"2015-09-13","y":0.26},
{"p":"B","s":"ESA","d":"2015-10-25","y":0.295},
{"p":"B","s":"ESA","d":"2015-10-25","y":0.28},
{"p":"B","s":"ESA","d":"2015-10-19","y":-0.1},
{"p":"B","s":"ESA","d":"2015-12-06","y":-0.22},
{"p":"B","s":"ESA","d":"2015-12-24","y":-0.11},
{"p":"B","s":"ESA","d":"2016-02-28","y":-0.2},
{"p":"B","s":"ESA","d":"2016-03-07","y":-0.28},
{"p":"B","s":"ESA","d":"2016-04-16","y":-0.26},
{"p":"B","s":"ESA","d":"2016-05-08","y":-0.29},
{"p":"B","s":"ESA","d":"2016-06-22","y":0.1},
{"p":"B","s":"ESA","d":"2016-07-15","y":0.12},
{"p":"B","s":"ESA","d":"2016-08-19","y":-0.295},
{"p":"B","s":"ESA","d":"2015-09-24","y":0.12},
{"p":"B","s":"ESA","d":"2015-10-02","y":-0.16},
{"p":"C","s":"ESA","d":"2015-09-03","y":0.094},
{"p":"C","s":"ESA","d":"2015-10-01","y":-0.14},
{"p":"C","s":"ESA","d":"2015-10-10","y":-0.16},
{"p":"C","s":"ESA","d":"2015-11-20","y":0.15},
{"p":"C","s":"ESA","d":"2015-11-20","y":0.21},
{"p":"C","s":"ESA","d":"2015-11-22","y":-0.14},
{"p":"C","s":"ESA","d":"2016-01-22","y":-0.04},
{"p":"C","s":"ESA","d":"2016-03-08","y":-0.14},
{"p":"C","s":"ESA","d":"2016-06-22","y":-0.14},
{"p":"C","s":"ESA","d":"2016-07-10","y":-0.21},
{"p":"C","s":"ESA","d":"2016-07-22","y":0.24},
{"p":"C","s":"ESA","d":"2016-08-07","y":0.21},
{"p":"C","s":"ESA","d":"2016-07-24","y":-0.21},
{"p":"C","s":"ESA","d":"2016-06-08","y":-0.14},
{"p":"A","s":"IfE","d":"2015-09-27","y":-0.13},
{"p":"A","s":"IfE","d":"2015-11-03","y":0.2},
{"p":"A","s":"IfE","d":"2015-11-03","y":0.14},
{"p":"A","s":"IfE","d":"2015-11-21","y":-0.085},
{"p":"A","s":"IfE","d":"2015-12-15","y":-0.165},
{"p":"A","s":"IfE","d":"2015-12-28","y":-0.105},
{"p":"A","s":"IfE","d":"2016-01-19","y":-0.01},
{"p":"A","s":"IfE","d":"2016-01-22","y":0.01},
{"p":"A","s":"IfE","d":"2016-06-04","y":-0.29},
{"p":"A","s":"IfE","d":"2016-06-14","y":0.26},
{"p":"A","s":"IfE","d":"2016-07-04","y":0.26},
{"p":"A","s":"IfE","d":"2016-05-31","y":-0.12},
{"p":"A","s":"IfE","d":"2016-08-15","y":0.2},
{"p":"A","s":"IfE","d":"2016-08-24","y":0.17},
{"p":"A","s":"IfE","d":"2016-07-14","y":0.2},
{"p":"B","s":"IfE","d":"2015-10-25","y":0.28},
{"p":"B","s":"IfE","d":"2015-11-10","y":-0.13},
{"p":"B","s":"IfE","d":"2015-11-11","y":0.27},
{"p":"B","s":"IfE","d":"2016-01-06","y":0.07},
{"p":"B","s":"IfE","d":"2016-01-16","y":-0.005},
{"p":"B","s":"IfE","d":"2016-01-19","y":0.02},
{"p":"B","s":"IfE","d":"2016-01-22","y":-0.01},
{"p":"B","s":"IfE","d":"2016-06-04","y":-0.29},
{"p":"B","s":"IfE","d":"2016-07-05","y":0.1},
{"p":"B","s":"IfE","d":"2016-08-03","y":0.17},
{"p":"B","s":"IfE","d":"2016-08-19","y":-0.295},
{"p":"C","s":"IfE","d":"2015-09-23","y":-0.12},
{"p":"C","s":"IfE","d":"2015-10-02","y":0.08},
{"p":"C","s":"IfE","d":"2015-10-24","y":0.095},
{"p":"C","s":"IfE","d":"2016-01-21","y":-0.01},
{"p":"C","s":"IfE","d":"2016-03-20","y":-0.13},
{"p":"C","s":"IfE","d":"2016-07-03","y":-0.13},
{"p":"C","s":"IfE","d":"2016-08-07","y":0.2},
{"p":"C","s":"IfE","d":"2016-08-20","y":0.2}
]
},
"vconcat":[
{"width":574,"height":101,
 "title":{"text":"(a)","anchor":"start","frame":"group","dx":-65,"dy":10,"offset":0},
 "layer":[
  {"data":{"name":"band"},"transform":[{"filter":"datum.p=='A'"}],
   "mark":{"type":"area","color":"#ff0000","interpolate":"linear","clip":true},
   "encoding":{
    "x":{"field":"d","type":"temporal","scale":{"type":"utc","domain":[{"year":2015,"month":9,"date":2,"utc":true},{"year":2016,"month":8,"date":31,"utc":true}]},
      "axis":{"values":[{"year":2015,"month":10,"date":1,"utc":true},{"year":2016,"month":1,"date":1,"utc":true},{"year":2016,"month":4,"date":1,"utc":true},{"year":2016,"month":7,"date":1,"utc":true}],"format":"%b","title":null,"tickCount":20}},
    "y":{"field":"eh","type":"quantitative","scale":{"domain":[-0.3,0.3],"nice":false,"zero":false},
      "axis":{"values":[-0.3,-0.2,-0.1,0,0.1,0.2,0.3],"tickCount":10,"format":".1~f","title":"A [m]"}},
    "y2":{"field":"el"},
    "detail":{"field":"g","type":"nominal"}}},
  {"data":{"name":"band"},"transform":[{"filter":"datum.p=='A'"}],
   "mark":{"type":"area","color":"#0000ff","interpolate":"linear","clip":true},
   "encoding":{"x":{"field":"d","type":"temporal"},"y":{"field":"ih","type":"quantitative"},"y2":{"field":"il"},"detail":{"field":"g","type":"nominal"}}},
  {"data":{"name":"spk"},"transform":[{"filter":"datum.p=='A' && datum.s=='ESA'"}],
   "mark":{"type":"rule","color":"#ff0000","strokeWidth":1.5,"clip":true},
   "encoding":{"x":{"field":"d","type":"temporal"},"y":{"field":"lo","type":"quantitative"},"y2":{"field":"hi"}}},
  {"data":{"name":"spk"},"transform":[{"filter":"datum.p=='A' && datum.s=='ESA'"}],
   "mark":{"type":"rule","color":"#ff0000","strokeWidth":5,"strokeDash":[1.2,2],"clip":true},
   "encoding":{"x":{"field":"d","type":"temporal"},"y":{"field":"lo","type":"quantitative"},"y2":{"field":"hi"}}},
  {"data":{"name":"spk"},"transform":[{"filter":"datum.p=='A' && datum.s=='IfE'"}],
   "mark":{"type":"rule","color":"#0000ff","strokeWidth":2,"clip":true},
   "encoding":{"x":{"field":"d","type":"temporal"},"y":{"field":"lo","type":"quantitative"},"y2":{"field":"hi"}}},
  {"data":{"name":"spk"},"transform":[{"filter":"datum.p=='A' && datum.s=='IfE'"}],
   "mark":{"type":"rule","color":"#0000ff","strokeWidth":4.5,"strokeDash":[1.5,1.5],"clip":true},
   "encoding":{"x":{"field":"d","type":"temporal"},"y":{"field":"lo","type":"quantitative"},"y2":{"field":"hi"}}},
  {"data":{"name":"pts"},"transform":[{"filter":"datum.p=='A'"}],
   "mark":{"type":"point","filled":false,"strokeWidth":1,"size":36,"clip":true},
   "encoding":{"x":{"field":"d","type":"temporal"},"y":{"field":"y","type":"quantitative"},
    "color":{"field":"s","type":"nominal","scale":{"domain":["ESA","IfE"],"range":["#ff0000","#0000ff"]},
      "legend":{"orient":"none","legendX":121,"legendY":-8,"title":null,"labelExpr":"datum.label=='ESA' ? 'ESA: rms=3.84 cm mean=\u22120.83 cm' : 'IfE:\u00a0\u00a0\u00a0\u00a0rms=3.55 cm mean=\u22120.92 cm'"}},
    "shape":{"field":"s","type":"nominal","scale":{"domain":["ESA","IfE"],"range":["M-1,0L1,0M0,-1L0,1","M-0.7,-0.7L0.7,0.7M-0.7,0.7L0.7,-0.7"]},
      "legend":{"orient":"none","legendX":121,"legendY":-8,"title":null,"labelExpr":"datum.label=='ESA' ? 'ESA: rms=3.84 cm mean=\u22120.83 cm' : 'IfE:\u00a0\u00a0\u00a0\u00a0rms=3.55 cm mean=\u22120.92 cm'"}}}}
 ]},
{"width":574,"height":101,
 "title":{"text":"(b)","anchor":"start","frame":"group","dx":-65,"dy":3,"offset":0},
 "layer":[
  {"data":{"name":"band"},"transform":[{"filter":"datum.p=='B'"}],
   "mark":{"type":"area","color":"#ff0000","interpolate":"linear","clip":true},
   "encoding":{
    "x":{"field":"d","type":"temporal","scale":{"type":"utc","domain":[{"year":2015,"month":9,"date":2,"utc":true},{"year":2016,"month":8,"date":31,"utc":true}]},
      "axis":{"values":[{"year":2015,"month":10,"date":1,"utc":true},{"year":2016,"month":1,"date":1,"utc":true},{"year":2016,"month":4,"date":1,"utc":true},{"year":2016,"month":7,"date":1,"utc":true}],"format":"%b","title":null,"tickCount":20}},
    "y":{"field":"eh","type":"quantitative","scale":{"domain":[-0.3,0.3],"nice":false,"zero":false},
      "axis":{"values":[-0.3,-0.2,-0.1,0,0.1,0.2,0.3],"tickCount":10,"format":".1~f","title":"B [m]"}},
    "y2":{"field":"el"},
    "detail":{"field":"g","type":"nominal"}}},
  {"data":{"name":"band"},"transform":[{"filter":"datum.p=='B'"}],
   "mark":{"type":"area","color":"#0000ff","interpolate":"linear","clip":true},
   "encoding":{"x":{"field":"d","type":"temporal"},"y":{"field":"ih","type":"quantitative"},"y2":{"field":"il"},"detail":{"field":"g","type":"nominal"}}},
  {"data":{"name":"spk"},"transform":[{"filter":"datum.p=='B' && datum.s=='ESA'"}],
   "mark":{"type":"rule","color":"#ff0000","strokeWidth":1.5,"clip":true},
   "encoding":{"x":{"field":"d","type":"temporal"},"y":{"field":"lo","type":"quantitative"},"y2":{"field":"hi"}}},
  {"data":{"name":"spk"},"transform":[{"filter":"datum.p=='B' && datum.s=='ESA'"}],
   "mark":{"type":"rule","color":"#ff0000","strokeWidth":5,"strokeDash":[1.2,2],"clip":true},
   "encoding":{"x":{"field":"d","type":"temporal"},"y":{"field":"lo","type":"quantitative"},"y2":{"field":"hi"}}},
  {"data":{"name":"spk"},"transform":[{"filter":"datum.p=='B' && datum.s=='IfE'"}],
   "mark":{"type":"rule","color":"#0000ff","strokeWidth":2,"clip":true},
   "encoding":{"x":{"field":"d","type":"temporal"},"y":{"field":"lo","type":"quantitative"},"y2":{"field":"hi"}}},
  {"data":{"name":"spk"},"transform":[{"filter":"datum.p=='B' && datum.s=='IfE'"}],
   "mark":{"type":"rule","color":"#0000ff","strokeWidth":4.5,"strokeDash":[1.5,1.5],"clip":true},
   "encoding":{"x":{"field":"d","type":"temporal"},"y":{"field":"lo","type":"quantitative"},"y2":{"field":"hi"}}},
  {"data":{"name":"pts"},"transform":[{"filter":"datum.p=='B'"}],
   "mark":{"type":"point","filled":false,"strokeWidth":1,"size":36,"clip":true},
   "encoding":{"x":{"field":"d","type":"temporal"},"y":{"field":"y","type":"quantitative"},
    "color":{"field":"s","type":"nominal","scale":{"domain":["ESA","IfE"],"range":["#ff0000","#0000ff"]},
      "legend":{"orient":"none","legendX":121,"legendY":-3,"title":null,"labelExpr":"datum.label=='ESA' ? 'ESA: rms=4.07 cm mean=\u22121.08 cm' : 'IfE:\u00a0\u00a0\u00a0\u00a0rms=3.73 cm mean=\u22121.15 cm'"}},
    "shape":{"field":"s","type":"nominal","scale":{"domain":["ESA","IfE"],"range":["M-1,0L1,0M0,-1L0,1","M-0.7,-0.7L0.7,0.7M-0.7,0.7L0.7,-0.7"]},
      "legend":{"orient":"none","legendX":121,"legendY":-3,"title":null,"labelExpr":"datum.label=='ESA' ? 'ESA: rms=4.07 cm mean=\u22121.08 cm' : 'IfE:\u00a0\u00a0\u00a0\u00a0rms=3.73 cm mean=\u22121.15 cm'"}}}}
 ]},
{"width":574,"height":101,
 "title":{"text":"(c)","anchor":"start","frame":"group","dx":-65,"dy":2,"offset":0},
 "layer":[
  {"data":{"name":"band"},"transform":[{"filter":"datum.p=='C'"}],
   "mark":{"type":"area","color":"#ff0000","interpolate":"linear","clip":true},
   "encoding":{
    "x":{"field":"d","type":"temporal","scale":{"type":"utc","domain":[{"year":2015,"month":9,"date":2,"utc":true},{"year":2016,"month":8,"date":31,"utc":true}]},
      "axis":{"values":[{"year":2015,"month":10,"date":1,"utc":true},{"year":2015,"month":11,"date":1,"utc":true},{"year":2015,"month":12,"date":1,"utc":true},{"year":2016,"month":1,"date":1,"utc":true},{"year":2016,"month":2,"date":1,"utc":true},{"year":2016,"month":3,"date":1,"utc":true},{"year":2016,"month":4,"date":1,"utc":true},{"year":2016,"month":5,"date":1,"utc":true},{"year":2016,"month":6,"date":1,"utc":true},{"year":2016,"month":7,"date":1,"utc":true},{"year":2016,"month":8,"date":1,"utc":true}],"format":"%b","tickCount":20,
        "title":"2015\u00a0\u00a0\u00a0\u00a0\u00a0\u00a0\u00a0\u00a0\u00a0\u00a0\u00a0\u00a0\u00a0\u00a0\u00a02016","titleX":90,"titleAlign":"left","titleAnchor":"start","titlePadding":6}},
    "y":{"field":"eh","type":"quantitative","scale":{"domain":[-0.3,0.3],"nice":false,"zero":false},
      "axis":{"values":[-0.3,-0.2,-0.1,0,0.1,0.2,0.3],"tickCount":10,"format":".1~f","title":"C [m]"}},
    "y2":{"field":"el"},
    "detail":{"field":"g","type":"nominal"}}},
  {"data":{"name":"band"},"transform":[{"filter":"datum.p=='C'"}],
   "mark":{"type":"area","color":"#0000ff","interpolate":"linear","clip":true},
   "encoding":{"x":{"field":"d","type":"temporal"},"y":{"field":"ih","type":"quantitative"},"y2":{"field":"il"},"detail":{"field":"g","type":"nominal"}}},
  {"data":{"name":"spk"},"transform":[{"filter":"datum.p=='C' && datum.s=='ESA'"}],
   "mark":{"type":"rule","color":"#ff0000","strokeWidth":1.5,"clip":true},
   "encoding":{"x":{"field":"d","type":"temporal"},"y":{"field":"lo","type":"quantitative"},"y2":{"field":"hi"}}},
  {"data":{"name":"spk"},"transform":[{"filter":"datum.p=='C' && datum.s=='ESA'"}],
   "mark":{"type":"rule","color":"#ff0000","strokeWidth":5,"strokeDash":[1.2,2],"clip":true},
   "encoding":{"x":{"field":"d","type":"temporal"},"y":{"field":"lo","type":"quantitative"},"y2":{"field":"hi"}}},
  {"data":{"name":"spk"},"transform":[{"filter":"datum.p=='C' && datum.s=='IfE'"}],
   "mark":{"type":"rule","color":"#0000ff","strokeWidth":2,"clip":true},
   "encoding":{"x":{"field":"d","type":"temporal"},"y":{"field":"lo","type":"quantitative"},"y2":{"field":"hi"}}},
  {"data":{"name":"spk"},"transform":[{"filter":"datum.p=='C' && datum.s=='IfE'"}],
   "mark":{"type":"rule","color":"#0000ff","strokeWidth":4.5,"strokeDash":[1.5,1.5],"clip":true},
   "encoding":{"x":{"field":"d","type":"temporal"},"y":{"field":"lo","type":"quantitative"},"y2":{"field":"hi"}}},
  {"data":{"name":"pts"},"transform":[{"filter":"datum.p=='C'"}],
   "mark":{"type":"point","filled":false,"strokeWidth":1,"size":36,"clip":true},
   "encoding":{"x":{"field":"d","type":"temporal"},"y":{"field":"y","type":"quantitative"},
    "color":{"field":"s","type":"nominal","scale":{"domain":["ESA","IfE"],"range":["#ff0000","#0000ff"]},
      "legend":{"orient":"none","legendX":128,"legendY":-7,"title":null,"labelExpr":"datum.label=='ESA' ? 'ESA: rms=4.33 cm mean=\u22121.01 cm' : 'IfE: rms=3.90 cm mean=\u22121.03 cm'"}},
    "shape":{"field":"s","type":"nominal","scale":{"domain":["ESA","IfE"],"range":["M-1,0L1,0M0,-1L0,1","M-0.7,-0.7L0.7,0.7M-0.7,0.7L0.7,-0.7"]},
      "legend":{"orient":"none","legendX":128,"legendY":-7,"title":null,"labelExpr":"datum.label=='ESA' ? 'ESA: rms=4.33 cm mean=\u22121.01 cm' : 'IfE: rms=3.90 cm mean=\u22121.03 cm'"}}}}
 ]}
],
"resolve":{"scale":{"color":"independent","shape":"independent","x":"independent","y":"independent"},"legend":{"color":"independent","shape":"independent"}},
"config":{
 "font":"Liberation Sans",
 "view":{"stroke":null},
 "axis":{"labelFont":"Liberation Sans","labelFontWeight":"bold","labelFontSize":16,"labelColor":"#000000","labelOverlap":false,"labelBound":false,"domainColor":"#666666","domainWidth":1,"grid":true,"gridColor":"#aaaaaa","gridDash":[1,3],"ticks":false,"labelPadding":3,"titleFont":"Liberation Sans","titleFontWeight":"bold","titleColor":"#000000","titleFontSize":22,"titlePadding":-2},
 "legend":{"labelFont":"Liberation Sans","labelFontSize":16,"labelFontWeight":"bold","labelColor":"#000000","labelLimit":400,"symbolSize":64,"symbolStrokeWidth":1,"padding":5,"rowPadding":6,"fillColor":"#ffffff","strokeColor":"#333333","symbolOffset":8,"labelOffset":5},
 "title":{"font":"Liberation Sans","fontSize":13,"fontWeight":"bold","color":"#000000"}
}
}
